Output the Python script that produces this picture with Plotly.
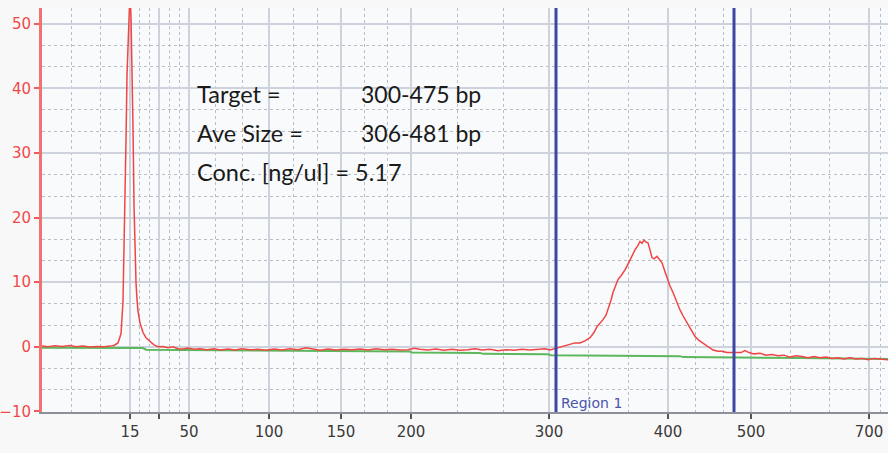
import plotly.graph_objects as go

# Ladder (bp) and migration times (s)
ladder_bp = [15, 25, 50, 100, 150, 200, 300, 400, 500, 700, 850]
ladder_time = [41.20, 42.36, 43.56, 46.76, 49.64, 52.44, 57.96, 62.72, 66.04, 70.76, 72.16]
tick_labels = ["15", "", "50", "100", "150", "200", "300", "400", "500", "700", "850"]

# Sample electropherogram (time s, fluorescence FU)
sample_time = [37.68, 37.92, 38.20, 38.48, 38.80, 39.04, 39.32, 39.60, 39.88, 40.16, 40.40, 40.56,
               40.72, 40.84, 40.92, 40.96, 41.00, 41.04, 41.08, 41.12, 41.16, 41.20, 41.24, 41.28,
               41.32, 41.36, 41.40, 41.44, 41.48, 41.52, 41.60, 41.72, 41.84, 42.00, 42.16, 42.32,
               42.52, 42.72, 42.92, 43.12, 43.32, 43.52, 43.76, 44.00, 44.28, 44.56, 44.80, 45.12,
               45.40, 45.68, 46.00, 46.32, 46.64, 46.96, 47.28, 47.60, 47.92, 48.24, 48.56, 48.80,
               49.12, 49.44, 49.76, 50.08, 50.40, 50.72, 51.04, 51.36, 51.68, 52.00, 52.32, 52.56,
               52.80, 53.12, 53.44, 53.76, 54.08, 54.40, 54.72, 55.00, 55.28, 55.60, 55.92, 56.24,
               56.56, 56.88, 57.20, 57.52, 57.80, 58.00, 58.20, 58.40, 58.60, 58.80, 59.00, 59.20,
               59.40, 59.60, 59.76, 59.88, 60.00, 60.12, 60.24, 60.32, 60.44, 60.52, 60.64, 60.72,
               60.84, 61.00, 61.12, 61.20, 61.32, 61.40, 61.52, 61.60, 61.68, 61.76, 61.84, 61.92,
               62.00, 62.08, 62.16, 62.28, 62.40, 62.48, 62.60, 62.72, 62.80, 62.92, 63.04, 63.20,
               63.32, 63.48, 63.64, 63.80, 63.96, 64.12, 64.32, 64.52, 64.72, 64.88, 65.08, 65.28,
               65.48, 65.64, 65.80, 65.96, 66.16, 66.40, 66.64, 66.88, 67.12, 67.36, 67.60, 67.84,
               68.08, 68.32, 68.56, 68.80, 69.04, 69.28, 69.52, 69.76, 70.00, 70.24, 70.48, 70.72,
               70.96, 71.20, 71.52]
sample_fu = [0.1, 0.0, 0.15, 0.05, 0.2, 0.0, 0.1, -0.05, 0.05, 0.0, 0.1, 0.2,
             0.6, 2.0, 7.0, 18.0, 26.0, 32.0, 42.0, 48.0, 52.0, 55.0, 51.0, 44.0,
             34.0, 22.0, 14.0, 10.0, 7.3, 5.5, 3.7, 2.2, 1.4, 0.8, 0.3, 0.0,
             0.05, -0.15, 0.0, -0.3, -0.35, -0.2, -0.4, -0.3, -0.45, -0.3, -0.5, -0.35,
             -0.5, -0.3, -0.45, -0.4, -0.55, -0.35, -0.5, -0.3, -0.45, -0.15, -0.4, -0.55,
             -0.35, -0.5, -0.4, -0.45, -0.35, -0.5, -0.3, -0.45, -0.4, -0.5, -0.45, -0.25,
             -0.4, -0.5, -0.35, -0.55, -0.4, -0.55, -0.45, -0.3, -0.5, -0.4, -0.6, -0.45,
             -0.55, -0.4, -0.5, -0.45, -0.3, -0.5, -0.3, -0.05, 0.1, 0.3, 0.6, 0.6,
             0.9, 1.4, 2.2, 3.1, 3.6, 4.2, 4.9, 5.7, 7.2, 8.4, 9.8, 10.4,
             11.0, 11.9, 12.8, 13.5, 14.4, 15.0, 15.7, 16.3, 16.0, 16.5, 16.2, 16.1,
             15.0, 13.8, 13.6, 14.0, 13.4, 13.0, 11.6, 10.1, 9.4, 8.4, 7.2, 5.7,
             4.8, 3.7, 2.6, 1.6, 1.0, 0.6, 0.0, -0.5, -0.7, -0.7, -0.9, -0.9,
             -1.0, -0.9, -0.6, -0.9, -1.1, -1.0, -1.3, -1.2, -1.4, -1.3, -1.6, -1.4,
             -1.5, -1.7, -1.5, -1.7, -1.6, -1.8, -1.7, -1.9, -1.7, -1.9, -1.8, -2.0,
             -1.8, -1.9, -2.0]

# Baseline
baseline_time = [37.68, 41.72, 41.84, 48.00, 52.40, 52.48, 55.20, 55.32, 57.92, 58.04,
                 60.48, 60.60, 63.20, 63.32, 65.80, 68.00, 71.52]
baseline_fu = [-0.15, -0.2, -0.45, -0.6, -0.75, -0.88, -0.95, -1.1, -1.15, -1.3,
               -1.32, -1.42, -1.45, -1.6, -1.65, -1.75, -1.9]

# Region 1 limits (s) -> 306 - 481 bp
region_time = [58.24, 65.36]
region_label = "Region 1"

info_labels = ["Target =", "Ave Size =", "Conc. [ng/ul] = 5.17"]
info_values = ["300-475 bp", "306-481 bp", ""]

x_range = [37.68, 71.52]
y_ticks = [-10, 0, 10, 20, 30, 40, 50]

# minor gridlines: thirds between major ladder ticks
edges = [x_range[0]] + ladder_time
minor_vals = []
for a, b in zip(edges[:-1], edges[1:]):
    minor_vals += [a + (b - a) / 3, a + 2 * (b - a) / 3]

fig = go.Figure()
fig.add_trace(go.Scatter(x=baseline_time, y=baseline_fu, mode="lines",
                         line=dict(color="#5cb85c", width=2), hoverinfo="skip"))
fig.add_trace(go.Scatter(x=sample_time, y=sample_fu, mode="lines",
                         line=dict(color="#f04545", width=1.5)))

for t in region_time:
    fig.add_shape(type="line", x0=t, x1=t, xref="x", yref="paper", y0=0, y1=1,
                  line=dict(color="#3d47a3", width=3), layer="above")

fig.add_annotation(x=region_time[0], xref="x", y=0, yref="paper", text=region_label,
                   showarrow=False, xanchor="left", yanchor="bottom", xshift=3, yshift=-1,
                   font=dict(family="DejaVu Sans", size=14, color="#4a55ad"))

rows_y = [0.787, 0.691, 0.594]
for lab, val, yy in zip(info_labels, info_values, rows_y):
    fig.add_annotation(x=0.181, xref="paper", y=yy, yref="paper", text=lab, showarrow=False,
                       xanchor="left", yanchor="middle",
                       font=dict(family="Lato", size=23.5, color="#1a1a1a"))
    if val:
        fig.add_annotation(x=0.375, xref="paper", y=yy, yref="paper", text=val, showarrow=False,
                           xanchor="left", yanchor="middle",
                           font=dict(family="Lato", size=23, color="#1a1a1a"))

fig.update_layout(
    width=888, height=453,
    margin=dict(l=42, r=0, t=8, b=41),
    paper_bgcolor="#f8f8f8", plot_bgcolor="#f9fafb",
    showlegend=False,
    xaxis=dict(range=x_range, tickmode="array", tickvals=ladder_time, ticktext=tick_labels,
               showgrid=True, gridcolor="#cdd2dc", gridwidth=1.5,
               ticks="outside", ticklen=5, tickwidth=1.5, tickcolor="#555",
               showline=True, linecolor="#8c9199", linewidth=2,
               zeroline=False,
               tickfont=dict(family="DejaVu Sans", size=15, color="#3a3a3a"),
               minor=dict(tickmode="array", tickvals=minor_vals, showgrid=True,
                          gridcolor="#b9bdc5", griddash="dot", gridwidth=1, ticks="")),
    yaxis=dict(range=[-10.1, 52.45], tickmode="array", tickvals=y_ticks,
               showgrid=True, gridcolor="#cdd2dc", gridwidth=1.5,
               ticks="outside", ticklen=5, tickwidth=1.5, tickcolor="#f05a5a",
               showline=True, linecolor="#f27272", linewidth=3,
               zeroline=False,
               tickfont=dict(family="DejaVu Sans", size=15, color="#f04848"),
               minor=dict(tick0=0, dtick=10 / 3, showgrid=True,
                          gridcolor="#b9bdc5", griddash="dot", gridwidth=1, ticks="")),
)

fig.write_html("out.html", config={"displayModeBar": False},
               post_script="document.body.style.margin='0';")
